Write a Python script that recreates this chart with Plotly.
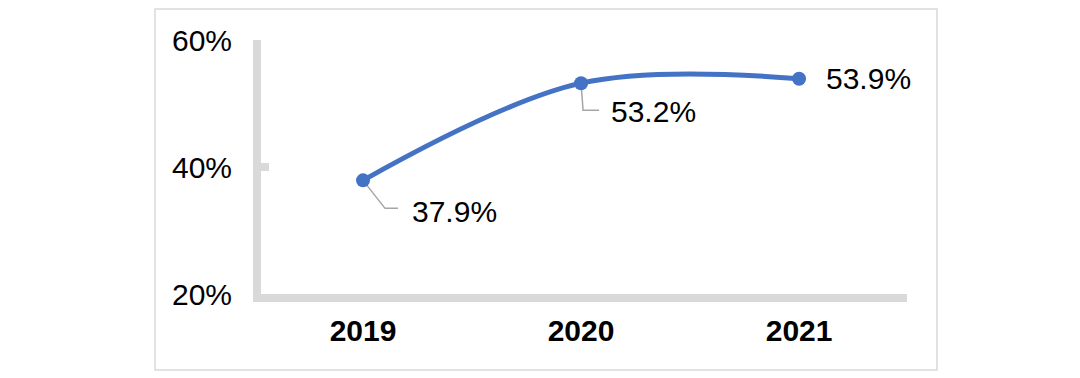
import plotly.graph_objects as go

years = [2019, 2020, 2021]
share = [37.9, 53.2, 53.9]
y_ticks = [20, 40, 60]
y_tick_text = ["20%", "40%", "60%"]

BLUE = "#4472C4"
GRAY = "#D9D9D9"
LEADER = "#A6A6A6"
FONT = "Liberation Sans, Arial, sans-serif"

fig = go.Figure()
fig.add_trace(go.Scatter(
    x=years, y=share, mode="lines+markers",
    line=dict(color=BLUE, width=5, shape="spline", smoothing=1),
    marker=dict(color=BLUE, size=14),
    hoverinfo="skip", showlegend=False,
))

# data labels: (x pixel shift, y pixel shift) and leader path in pixels
label_offsets = [(47, -31), (28, -28), (25, 0)]
leaders = ["M0,0 L22,-28 L35,-28", "M0,0 L2,-27 L18,-27", None]

for yr, v, (dx, dy), path in zip(years, share, label_offsets, leaders):
    fig.add_annotation(
        x=yr, y=v, xref="x", yref="y", text=f"{v}%", showarrow=False,
        xanchor="left", yanchor="middle", xshift=dx, yshift=dy,
        font=dict(family=FONT, size=30, color="#000000"),
    )
    if path:
        fig.add_shape(
            type="path", xref="x", yref="y", xsizemode="pixel", ysizemode="pixel",
            xanchor=yr, yanchor=v, path=path,
            line=dict(color=LEADER, width=1.5), layer="below",
        )

# outer chart border
fig.add_shape(type="rect", xref="paper", yref="paper",
              x0=-0.1641, x1=1.0464, y0=-0.2992, y1=1.1220,
              line=dict(color=GRAY, width=1.5), layer="below")

fig.update_xaxes(
    range=[years[0] - 0.468, years[-1] + 0.495], tickvals=years,
    ticktext=[str(y) for y in years],
    showline=True, linecolor=GRAY, linewidth=8, showgrid=False, zeroline=False,
    ticks="", ticklabelstandoff=3,
    tickfont=dict(family=FONT, size=30, color="#000000", weight="bold"),
)
fig.update_yaxes(
    range=[20, 60], tickvals=y_ticks, ticktext=y_tick_text,
    showline=True, linecolor=GRAY, linewidth=8, showgrid=False, zeroline=False,
    ticks="inside", ticklen=8, tickwidth=8, tickcolor=GRAY, ticklabelstandoff=15,
    tickfont=dict(family=FONT, size=30, color="#000000"),
)
fig.update_layout(
    width=1080, height=378,
    margin=dict(l=253, r=181, t=32, b=92),
    paper_bgcolor="white", plot_bgcolor="white",
)
fig.write_html("out.html")
